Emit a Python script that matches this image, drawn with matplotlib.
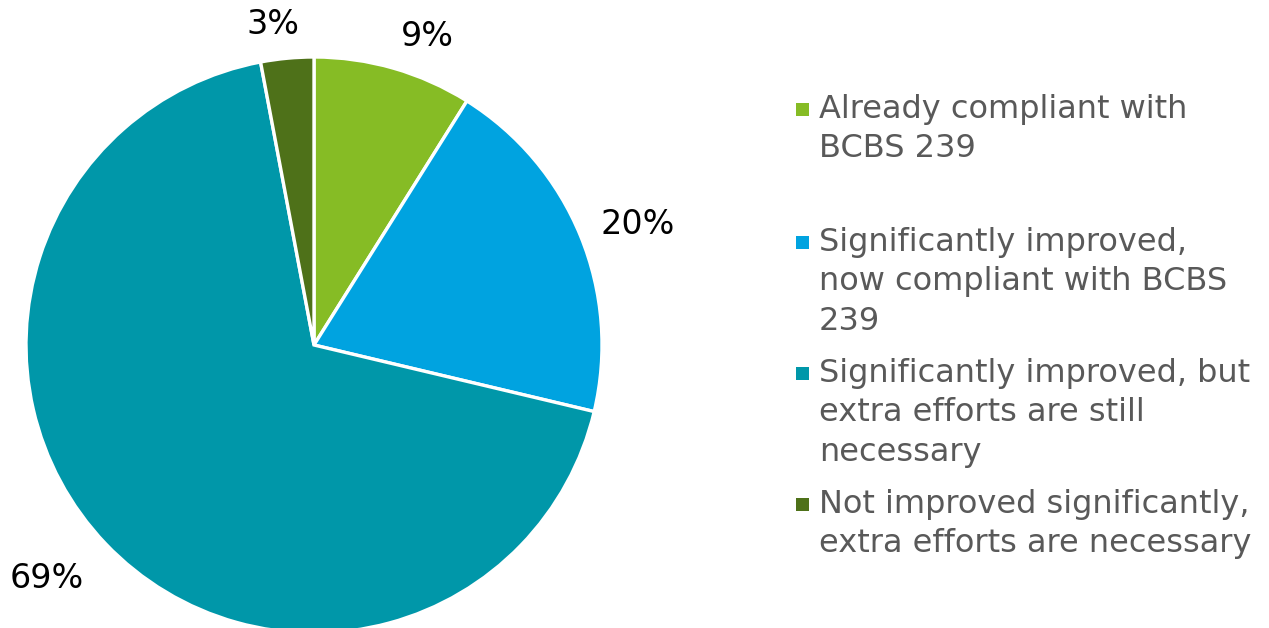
import matplotlib
matplotlib.use('Agg')
import matplotlib.pyplot as plt
from matplotlib.patches import Rectangle

# ── data ──────────────────────────────────────────────────────────────────────
categories = [
    'Already compliant with\nBCBS 239',
    'Significantly improved,\nnow compliant with BCBS\n239',
    'Significantly improved, but\nextra efforts are still\nnecessary',
    'Not improved significantly,\nextra efforts are necessary',
]
shares = [9, 20, 69, 3]
share_labels = ['9%', '20%', '69%', '3%']
colors = ['#86BC25', '#00A3E0', '#0097A9', '#4E7119']

# ── layout (pixels from top-left) ─────────────────────────────────────────────
W, H = 1269, 628
label_xy = [(427, 37), (638, 224), (47, 578), (273, 25)]
legend_tops = [97, 230, 361, 492]

fig = plt.figure(figsize=(W / 100, H / 100), dpi=100)
ax = fig.add_axes([0, 0, 1, 1])
ax.axis('off')

wedges, texts = ax.pie(
    shares, colors=colors, startangle=90, counterclock=False,
    center=(314, H - 345), radius=288, labels=share_labels,
    wedgeprops=dict(edgecolor='white', linewidth=2.4),
    textprops=dict(fontsize=24, color='black'),
)
for t, (x, y) in zip(texts, label_xy):
    t.set_position((x, H - y))
    t.set_ha('center')
    t.set_va('center')
ax.set_xlim(0, W)
ax.set_ylim(0, H)
ax.set_aspect('equal')

# ── legend (manual, handle aligned with first line) ──────────────────────────
for lab, col, top in zip(categories, colors, legend_tops):
    ax.add_patch(Rectangle((796, H - top - 19), 13, 13, facecolor=col,
                           edgecolor='none'))
    ax.text(819, H - top + 3, lab, ha='left', va='top', fontsize=23,
            color='#595959', linespacing=1.35)

fig.savefig('out.png', dpi=100)
